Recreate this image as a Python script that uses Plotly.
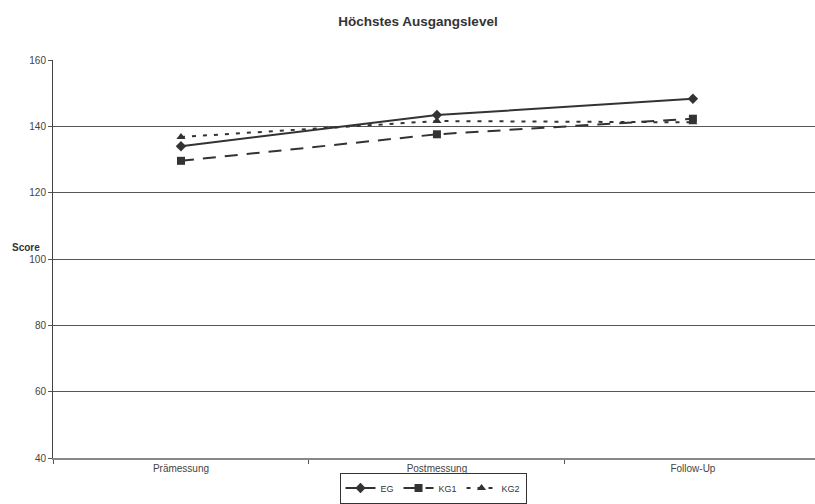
import plotly.graph_objects as go

categories = ["Prämessung", "Postmessung", "Follow-Up"]
eg = [134.0, 143.4, 148.3]
kg1 = [129.6, 137.6, 142.3]
kg2 = [136.8, 141.6, 141.2]
y_ticks = [40, 60, 80, 100, 120, 140, 160]

FONT = "Liberation Sans, Arial, sans-serif"
LINE = "#333333"

fig = go.Figure()
fig.add_trace(go.Scatter(x=categories, y=eg, name="EG", mode="lines+markers",
                         line=dict(color=LINE, width=2),
                         marker=dict(symbol="diamond", size=8, color=LINE)))
fig.add_trace(go.Scatter(x=categories, y=kg1, name="KG1", mode="lines+markers",
                         line=dict(color=LINE, width=2, dash="13px,9px"),
                         marker=dict(symbol="square", size=8, color=LINE)))
fig.add_trace(go.Scatter(x=categories, y=kg2, name="KG2", mode="lines+markers",
                         line=dict(color=LINE, width=2, dash="4px,7px"),
                         marker=dict(symbol="triangle-up", size=8, color=LINE)))

fig.update_layout(
    width=815, height=504,
    margin=dict(l=53, r=0, t=59.5, b=45.5, autoexpand=False),
    paper_bgcolor="white", plot_bgcolor="white",
    font=dict(family=FONT, size=10, color="#333333"),
    title=dict(text="<b>Höchstes Ausgangslevel</b>", x=418 / 815, xanchor="center",
               xref="container", y=1 - 21 / 504, yanchor="middle", yref="container",
               font=dict(family=FONT, size=13.5, color="#333333")),
    showlegend=True,
    legend=dict(orientation="h", x=433 / 815, xanchor="center", xref="container",
                y=0.5 / 504, yanchor="bottom", yref="container",
                bordercolor="#333333", borderwidth=1, bgcolor="rgba(255,255,255,0)",
                font=dict(family=FONT, size=9, color="#333333"),
                itemwidth=30, tracegroupgap=0),
    xaxis=dict(type="category", range=[-0.5, 2.477], showgrid=False,
               showline=True, linecolor="#888888", linewidth=2,
               ticks="outside", tickson="boundaries", ticklen=4, tickcolor="#555555",
               ticklabelstandoff=0,
               tickfont=dict(family=FONT, size=10, color="#444444"), zeroline=False),
    yaxis=dict(range=[40, 160], tickvals=y_ticks, showgrid=True,
               gridcolor="#555555", gridwidth=1,
               showline=True, linecolor="#444444", linewidth=1,
               ticks="outside", ticklen=4, tickcolor="#555555",
               tickfont=dict(family=FONT, size=10, color="#444444"), zeroline=False),
)

fig.add_annotation(text="<b>Score</b>", xref="paper", yref="paper",
                   x=-53 / 762 + 26 / 762, y=(458.5 - 247) / 399,
                   xanchor="center", yanchor="middle", showarrow=False,
                   font=dict(family=FONT, size=10, color="#333333"))

fig.write_html("out.html")
